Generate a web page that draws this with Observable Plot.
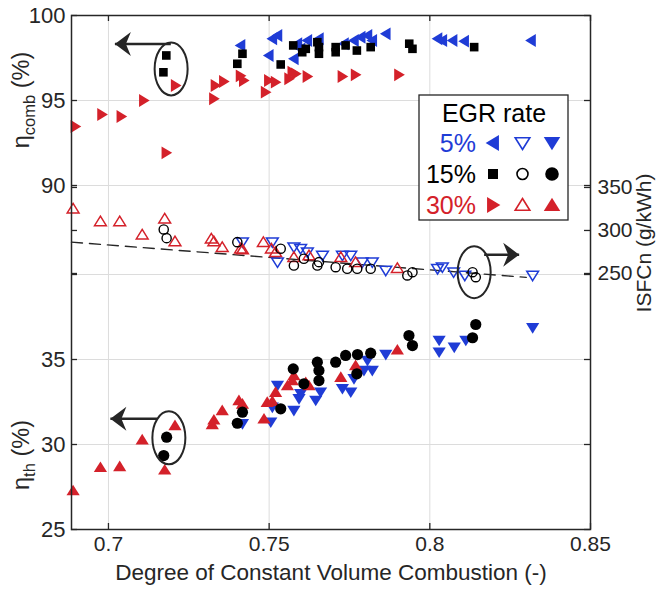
<!DOCTYPE html>
<html><head><meta charset="utf-8">
<script src="https://cdn.jsdelivr.net/npm/d3@7"></script>
<script src="https://cdn.jsdelivr.net/npm/@observablehq/plot@0.6"></script>
<style>body{margin:0;background:#fff;font-family:"Liberation Sans",Arial,sans-serif}</style>
</head><body><div id="chart"></div>
<script>
// ---- data: [degree of constant volume combustion, value]
const combEGR5 = [[0.7411,98.24],[0.7499,97.65],[0.751,98.63],[0.7526,98.82],[0.7577,97.45],[0.7588,98.34],[0.7598,98.04],[0.7619,98.53],[0.7655,98.63],[0.7733,98.34],[0.7764,98.53],[0.7785,98.72],[0.7806,98.82],[0.7821,98.53],[0.7863,98.92],[0.8024,98.63],[0.8039,98.53],[0.8071,98.53],[0.8107,98.49],[0.8315,98.53]];
const combEGR15 = [[0.7171,96.66],[0.718,97.65],[0.7401,97.16],[0.7417,97.75],[0.7536,97.12],[0.7575,98.24],[0.7603,97.84],[0.7614,98.04],[0.765,98.43],[0.7655,98.14],[0.7655,97.75],[0.7707,98.14],[0.7707,97.84],[0.7738,98.24],[0.7773,97.94],[0.7816,98.14],[0.7936,98.34],[0.7946,98.04],[0.8138,98.14]];
const combEGR30 = [[0.6897,93.47],[0.698,94.18],[0.704,94.06],[0.711,95.0],[0.718,91.92],[0.7209,95.88],[0.7328,95.1],[0.7333,95.88],[0.7359,96.12],[0.7411,96.45],[0.7421,96.18],[0.7489,95.49],[0.7499,96.18],[0.752,96.08],[0.7562,96.28],[0.7572,96.66],[0.7583,96.57],[0.7619,96.41],[0.7728,96.41],[0.7769,96.51],[0.7904,96.51]];

const isfcEGR5 = [[0.7417,286.4],[0.751,286.4],[0.7526,263.2],[0.7577,280.6],[0.7598,278.8],[0.7619,274.8],[0.7666,271.0],[0.7728,271.0],[0.7754,271.0],[0.779,263.2],[0.7821,263.2],[0.7863,253.5],[0.8024,255.5],[0.8039,257.3],[0.8074,251.5],[0.8109,247.7],[0.832,247.7]];
const isfcEGR15 = [[0.7172,301.2],[0.7181,291.1],[0.7401,286.4],[0.7536,278.8],[0.7577,259.3],[0.7608,267.1],[0.765,259.3],[0.7655,263.2],[0.7707,257.3],[0.7743,255.5],[0.7774,255.5],[0.7816,255.5],[0.793,247.7],[0.7946,251.5],[0.8133,251.5],[0.8143,245.7]];
const isfcEGR30 = [[0.689,325.3],[0.6975,310.5],[0.7035,310.5],[0.7105,295.1],[0.7175,313.7],[0.7207,287.3],[0.732,290.4],[0.7328,287.3],[0.7354,280.6],[0.7411,278.8],[0.7417,277.9],[0.7482,286.4],[0.7507,278.8],[0.752,274.8],[0.7577,269.0],[0.7624,271.0],[0.7723,269.0],[0.7769,263.2],[0.7899,256.2]];
const isfcFit = [[0.6885,286.5],[0.8300,245.5]];

const thEGR5 = [[0.7417,31.22],[0.7505,31.31],[0.751,32.19],[0.7526,33.47],[0.7577,32.0],[0.7593,32.69],[0.7598,32.98],[0.7645,32.59],[0.766,33.08],[0.7728,33.28],[0.7754,33.08],[0.7764,33.86],[0.7795,34.35],[0.7806,34.94],[0.7821,34.35],[0.7863,35.29],[0.8029,36.12],[0.8029,35.43],[0.8076,35.72],[0.8112,36.12],[0.832,36.86]];
const thEGR15 = [[0.7172,29.35],[0.7181,30.43],[0.7401,31.25],[0.7417,31.9],[0.7536,32.1],[0.7575,34.45],[0.7608,33.57],[0.765,34.84],[0.7655,34.35],[0.7655,33.76],[0.7707,34.84],[0.7738,35.24],[0.7773,34.16],[0.7775,35.29],[0.7816,35.37],[0.7935,36.41],[0.7946,35.82],[0.8133,36.28],[0.8143,37.06]];
const thEGR30 = [[0.689,27.29],[0.6975,28.66],[0.7035,28.71],[0.7105,30.28],[0.7175,28.51],[0.7207,31.12],[0.7323,31.18],[0.7328,31.45],[0.7354,32.0],[0.7406,32.59],[0.7417,32.39],[0.7484,31.51],[0.7494,32.49],[0.751,32.55],[0.752,33.08],[0.7557,33.47],[0.7572,33.76],[0.7577,34.06],[0.7614,33.66],[0.7624,33.47],[0.7723,33.96],[0.7769,34.65],[0.7899,35.57]];

// ---- ticks and labels
const xTicks = [0.7, 0.75, 0.8, 0.85];
const xGrid = [0.7, 0.75, 0.8];
const thTicks = [25, 30, 35];
const thGrid = [30, 35, 40];
const combTicks = [90, 95, 100];
const isfcTicks = [250, 300, 350];
const egrLabels = ["5%", "15%", "30%"];
const legendTitle = "EGR rate";
const xLabel = "Degree of Constant Volume Combustion (-)";

// annotations: [x, value]
const combEllipse = [[0.7195, 96.86]];
const thEllipse = [[0.7188, 30.39]];
const isfcEllipse = [[0.8138, 251.5]];
const combArrow = [[0.7194, 0.702, 98.33]];
const thArrow = [[0.7151, 0.7006, 31.51]];
const isfcArrow = [[0.8169, 0.8278, 271.8]];

// shared vertical axis: eta_th units; other quantities mapped onto it
const combY = v => v - 44.765;
const isfcY = v => 40.06 + (v - 250) * 0.0506;

const BLUE = "#1f3cd6", RED = "#d4212a", INK = "#262626", GRID = "#dcdcdc";

const sym = f => ({draw(c, size) { f(c, Math.sqrt(size / Math.PI)); }});
const triUp = sym((c, r) => { c.moveTo(0, -1.05 * r); c.lineTo(1.18 * r, 0.85 * r); c.lineTo(-1.18 * r, 0.85 * r); c.closePath(); });
const triDown = sym((c, r) => { c.moveTo(0, 1.05 * r); c.lineTo(1.18 * r, -0.85 * r); c.lineTo(-1.18 * r, -0.85 * r); c.closePath(); });
const triLeft = sym((c, r) => { c.moveTo(-1.05 * r, 0); c.lineTo(0.85 * r, -1.15 * r); c.lineTo(0.85 * r, 1.15 * r); c.closePath(); });
const triRight = sym((c, r) => { c.moveTo(1.05 * r, 0); c.lineTo(-0.85 * r, -1.15 * r); c.lineTo(-0.85 * r, 1.15 * r); c.closePath(); });
const square = sym((c, r) => { c.rect(-r, -r, 2 * r, 2 * r); });
const ellipse = (rx, ry) => ({draw(c) { const k = 0.5523;
  c.moveTo(rx, 0); c.bezierCurveTo(rx, ry * k, rx * k, ry, 0, ry); c.bezierCurveTo(-rx * k, ry, -rx, ry * k, -rx, 0);
  c.bezierCurveTo(-rx, -ry * k, -rx * k, -ry, 0, -ry); c.bezierCurveTo(rx * k, -ry, rx, -ry * k, rx, 0); c.closePath(); }});
const headLeft = {draw(c) { c.moveTo(0, 0); c.lineTo(16, -12); c.lineTo(11, 0); c.lineTo(16, 12); c.closePath(); }};
const headRight = {draw(c) { c.moveTo(0, 0); c.lineTo(-16, -12); c.lineTo(-11, 0); c.lineTo(-16, 12); c.closePath(); }};

const W = 658, H = 594, mT = 15, mB = 65, mL = 71, mR = 68;
const iW = W - mL - mR, iH = H - mT - mB;
const yTicksAll = [...thTicks, 40, ...combTicks.map(combY), ...isfcTicks.map(isfcY)];
const fx = d => d[0];

const plot = Plot.plot({
  width: W, height: H, marginTop: mT, marginBottom: mB, marginLeft: mL, marginRight: mR,
  x: {domain: [0.6885, 0.85], axis: null},
  y: {domain: [25, 25 + iH / 17], axis: null},
  style: {fontFamily: "Liberation Sans, Arial, sans-serif", fontSize: "20px", color: INK, background: "white"},
  marks: [
    Plot.ruleX(xGrid, {stroke: GRID, strokeWidth: 1}),
    Plot.ruleY([...thGrid, ...[90, 95].map(combY)], {stroke: GRID, strokeWidth: 1}),
    Plot.line(isfcFit, {x: fx, y: d => isfcY(d[1]), stroke: INK, strokeWidth: 1.4, strokeDasharray: "11,7"}),
    // 5% EGR
    Plot.dot(combEGR5, {x: fx, y: d => combY(d[1]), symbol: triLeft, r: 5.6, fill: BLUE}),
    Plot.dot(isfcEGR5, {x: fx, y: d => isfcY(d[1]), symbol: triDown, r: 5, fill: "none", stroke: BLUE, strokeWidth: 1.5}),
    Plot.dot(thEGR5, {x: fx, y: d => d[1], symbol: triDown, r: 5.6, fill: BLUE}),
    // 30% EGR
    Plot.dot(combEGR30, {x: fx, y: d => combY(d[1]), symbol: triRight, r: 5.6, fill: RED}),
    Plot.dot(isfcEGR30, {x: fx, y: d => isfcY(d[1]), symbol: triUp, r: 5, fill: "none", stroke: RED, strokeWidth: 1.5}),
    Plot.dot(thEGR30, {x: fx, y: d => d[1], symbol: triUp, r: 5.6, fill: RED}),
    // 15% EGR
    Plot.dot(combEGR15, {x: fx, y: d => combY(d[1]), symbol: square, r: 4.3, fill: "black"}),
    Plot.dot(isfcEGR15, {x: fx, y: d => isfcY(d[1]), symbol: "circle", r: 4.6, fill: "none", stroke: "black", strokeWidth: 1.4}),
    Plot.dot(thEGR15, {x: fx, y: d => d[1], symbol: "circle", r: 5.6, fill: "black"}),
    // annotations
    Plot.dot(combEllipse, {x: fx, y: d => combY(d[1]), symbol: ellipse(16.5, 26.5), r: 10, fill: "none", stroke: INK, strokeWidth: 2}),
    Plot.dot(thEllipse, {x: fx, y: d => d[1], symbol: ellipse(16.5, 26.5), r: 10, fill: "none", stroke: INK, strokeWidth: 2}),
    Plot.dot(isfcEllipse, {x: fx, y: d => isfcY(d[1]), symbol: ellipse(16.5, 26), r: 10, fill: "none", stroke: INK, strokeWidth: 2}),
    Plot.link(combArrow, {x1: d => d[0], x2: d => d[1], y1: d => combY(d[2]), y2: d => combY(d[2]), stroke: INK, strokeWidth: 2.5}),
    Plot.link(thArrow, {x1: d => d[0], x2: d => d[1], y1: d => d[2], y2: d => d[2], stroke: INK, strokeWidth: 2.5}),
    Plot.link(isfcArrow, {x1: d => d[0], x2: d => d[1], y1: d => isfcY(d[2]), y2: d => isfcY(d[2]), stroke: INK, strokeWidth: 2.5}),
    Plot.dot(combArrow, {x: d => d[1], y: d => combY(d[2]), symbol: headLeft, r: 10, fill: INK}),
    Plot.dot(thArrow, {x: d => d[1], y: d => d[2], symbol: headLeft, r: 10, fill: INK}),
    Plot.dot(isfcArrow, {x: d => d[1], y: d => isfcY(d[2]), symbol: headRight, r: 10, fill: INK}),
    // frame and inward ticks
    Plot.frame({stroke: INK, strokeWidth: 1.5}),
    Plot.ruleX(xTicks, {insetTop: iH - 6, stroke: INK, strokeWidth: 1.3}),
    Plot.ruleX(xTicks, {insetBottom: iH - 6, stroke: INK, strokeWidth: 1.3}),
    Plot.ruleY(yTicksAll, {insetRight: iW - 6, stroke: INK, strokeWidth: 1.3}),
    Plot.ruleY(yTicksAll, {insetLeft: iW - 6, stroke: INK, strokeWidth: 1.3}),
    // tick labels
    Plot.text(xTicks, {x: d => d, text: d => String(d), frameAnchor: "bottom", dy: 21, fill: INK, fontSize: 21}),
    Plot.text(thTicks, {y: d => d, text: d => String(d), frameAnchor: "left", dx: -6, textAnchor: "end", fill: INK, fontSize: 22}),
    Plot.text(combTicks, {y: d => combY(d), text: d => String(d), frameAnchor: "left", dx: -6, textAnchor: "end", fill: INK, fontSize: 22}),
    Plot.text(isfcTicks, {y: d => isfcY(d), text: d => String(d), frameAnchor: "right", dx: 7, textAnchor: "start", fill: INK, fontSize: 21}),
    Plot.text([xLabel], {text: d => d, frameAnchor: "bottom", dy: 50, fill: INK, fontSize: 22.5})
  ]
});
document.getElementById("chart").appendChild(plot);

const svg = d3.select(plot);
// axis titles with subscripts
function yTitle(x, y, main, sub, rest, size) {
  const t = svg.append("text").attr("transform", `translate(${x},${y}) rotate(-90)`)
    .attr("text-anchor", "middle").attr("font-size", size).attr("fill", INK);
  t.append("tspan").text(main);
  if (sub) t.append("tspan").attr("font-size", 16.5).attr("dy", 6).text(sub);
  if (rest) t.append("tspan").attr("dy", sub ? -6 : 0).text(rest);
}
yTitle(29, 100, "η", "comb", " (%)", 23.5);
yTitle(29, 455, "η", "th", " (%)", 23.5);
yTitle(651, 243, "ISFCn (g/kWh)", null, null, 21);

// legend
const lg = svg.append("g");
lg.append("rect").attr("x", 419).attr("y", 95).attr("width", 149).attr("height", 125)
  .attr("fill", "white").attr("stroke", INK).attr("stroke-width", 1.3);
lg.append("text").attr("x", 494).attr("y", 113).attr("text-anchor", "middle").attr("dy", "0.35em")
  .attr("font-size", 25).attr("fill", "black").text(legendTitle);
const legendRows = [
  {color: BLUE, syms: [[triLeft, 7, true], [triDown, 6.2, false], [triDown, 7, true]]},
  {color: "black", syms: [[square, 5, true], ["circle", 5.5, false], ["circle", 6.8, true]]},
  {color: RED, syms: [[triRight, 7, true], [triUp, 6.2, false], [triUp, 7, true]]}
];
legendRows.forEach((row, i) => {
  const cy = 143 + i * 31;
  lg.append("text").attr("x", 476).attr("y", cy).attr("dy", "0.35em").attr("text-anchor", "end")
    .attr("font-size", 25).attr("fill", row.color).text(egrLabels[i]);
  row.syms.forEach(([s, r, filled], j) => {
    const type = s === "circle" ? d3.symbolCircle : s;
    lg.append("path").attr("transform", `translate(${493 + j * 29.5},${cy})`)
      .attr("d", d3.symbol(type, Math.PI * r * r)())
      .attr("fill", filled ? row.color : "none").attr("stroke", filled ? "none" : row.color).attr("stroke-width", 1.6);
  });
});
</script></body></html>
